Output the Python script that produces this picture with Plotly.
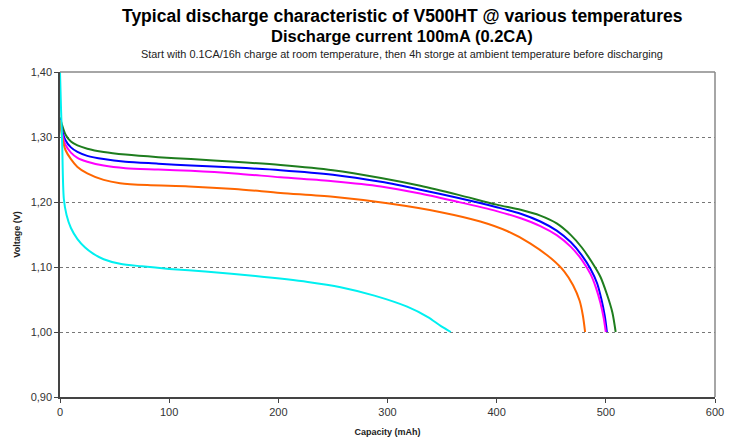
import plotly.graph_objects as go

# Capacity (mAh) / Voltage (V)
green_x = [0, 2, 5, 10, 16, 25, 40, 60, 90, 120, 160, 202, 250, 294, 330, 365, 400, 422, 440, 455, 468, 478, 487, 495, 501, 506, 509]
green_y = [1.330, 1.318, 1.304, 1.293, 1.287, 1.282, 1.277, 1.273, 1.269, 1.266, 1.262, 1.257, 1.249, 1.237, 1.225, 1.211, 1.196, 1.188, 1.179, 1.167, 1.149, 1.130, 1.108, 1.085, 1.058, 1.030, 1.000]

blue_x = [0, 2, 5, 10, 16, 25, 40, 60, 90, 120, 160, 202, 250, 294, 330, 365, 400, 422, 440, 455, 468, 478, 486, 492, 496, 499, 501]
blue_y = [1.328, 1.310, 1.295, 1.284, 1.277, 1.271, 1.266, 1.262, 1.259, 1.256, 1.253, 1.249, 1.242, 1.231, 1.219, 1.206, 1.192, 1.182, 1.170, 1.156, 1.138, 1.118, 1.097, 1.075, 1.050, 1.025, 1.000]

magenta_x = [0, 2, 5, 10, 16, 25, 40, 60, 90, 120, 160, 202, 250, 294, 330, 365, 400, 422, 440, 455, 468, 478, 486, 491, 495, 498, 500]
magenta_y = [1.325, 1.305, 1.288, 1.276, 1.268, 1.262, 1.256, 1.252, 1.250, 1.248, 1.244, 1.238, 1.232, 1.224, 1.213, 1.200, 1.186, 1.175, 1.163, 1.149, 1.131, 1.111, 1.089, 1.068, 1.045, 1.022, 1.000]

orange_x = [0, 2, 5, 10, 16, 25, 40, 55, 80, 118, 160, 202, 250, 300, 350, 385, 410, 431, 450, 462, 470, 476, 479, 481]
orange_y = [1.326, 1.300, 1.280, 1.266, 1.254, 1.244, 1.234, 1.229, 1.226, 1.224, 1.220, 1.214, 1.208, 1.198, 1.184, 1.170, 1.155, 1.136, 1.113, 1.093, 1.072, 1.048, 1.025, 1.000]

cyan_x = [0, 1, 2, 3.5, 6, 10, 16, 23, 30, 40, 55, 75, 100, 133, 179, 227, 257, 288, 318, 337, 349, 358]
cyan_y = [1.400, 1.340, 1.290, 1.205, 1.180, 1.160, 1.143, 1.130, 1.121, 1.112, 1.105, 1.101, 1.097, 1.093, 1.086, 1.077, 1.069, 1.056, 1.039, 1.023, 1.009, 1.000]

x_ticks = [0, 100, 200, 300, 400, 500, 600]
y_ticks = [0.90, 1.00, 1.10, 1.20, 1.30, 1.40]

title_1 = "Typical discharge characteristic of V500HT @ various temperatures"
title_2 = "Discharge current 100mA (0.2CA)"
title_3 = "Start with 0.1CA/16h charge at room temperature, then 4h storge at ambient temperature before discharging"

series = [
    ("Curve 1", green_x, green_y, "#1e7d1e"),
    ("Curve 2", blue_x, blue_y, "#0000ff"),
    ("Curve 3", magenta_x, magenta_y, "#ff00ff"),
    ("Curve 4", orange_x, orange_y, "#ff6600"),
    ("Curve 5", cyan_x, cyan_y, "#00f0f0"),
]

fig = go.Figure()
for name, xs, ys, col in series:
    fig.add_trace(go.Scatter(x=xs, y=ys, mode="lines", name=name,
                             line=dict(color=col, width=2, shape="spline", smoothing=0.8),
                             showlegend=False))

ML, MR, MT, MB = 60, 23, 72, 42
W, H = 738, 439
plot_w = W - ML - MR
plot_h = H - MT - MB

def px_to_paper(px, py):
    return (px - ML) / plot_w, (H - MB - py) / plot_h

anns = []
for text, cy, size, bold in [(title_1, 15.5, 17.5, True), (title_2, 36.5, 16.5, True), (title_3, 54, 10.9, False)]:
    ax, ay = px_to_paper(402, cy)
    anns.append(dict(text=("<b>%s</b>" % text) if bold else text, x=ax, y=ay,
                     xref="paper", yref="paper", showarrow=False,
                     xanchor="center", yanchor="middle",
                     font=dict(size=size, color="#000000" if bold else "#222222")))

fig.update_layout(
    width=W, height=H,
    margin=dict(l=ML, r=MR, t=MT, b=MB, autoexpand=False),
    paper_bgcolor="white", plot_bgcolor="white",
    separators=",.",
    font=dict(family="Liberation Sans, Arial, sans-serif", color="#333333", size=11),
    xaxis=dict(range=[0, 600], tickvals=x_ticks, showgrid=False, zeroline=False,
               automargin=False,
               showline=True, linecolor="#444444", linewidth=1.5,
               ticks="outside", ticklen=4, tickcolor="#444444",
               tickfont=dict(size=11, color="#333333"),
               title=dict(text="<b>Capacity (mAh)</b>", font=dict(size=9, color="#222222"), standoff=12)),
    yaxis=dict(range=[0.90, 1.40], tickvals=y_ticks, tickformat=".2f",
               automargin=False,
               showgrid=True, gridcolor="#777777", griddash="dot", gridwidth=1,
               zeroline=False, showline=True, linecolor="#444444", linewidth=1.5,
               ticks="outside", ticklen=4, tickcolor="#444444",
               tickfont=dict(size=11, color="#333333"),
               title=dict(text="<b>Voltage (V)</b>", font=dict(size=9, color="#222222"), standoff=8)),
    shapes=[
        dict(type="line", xref="paper", yref="paper", x0=0, x1=1, y0=1, y1=1,
             line=dict(color="#888888", width=1.5)),
        dict(type="line", xref="paper", yref="paper", x0=1, x1=1, y0=0, y1=1,
             line=dict(color="#888888", width=1.5)),
    ],
    annotations=anns,
)

fig.write_html("out.html", config={"displayModeBar": False},
               post_script="document.body.style.margin='0';document.body.style.overflow='hidden';")
